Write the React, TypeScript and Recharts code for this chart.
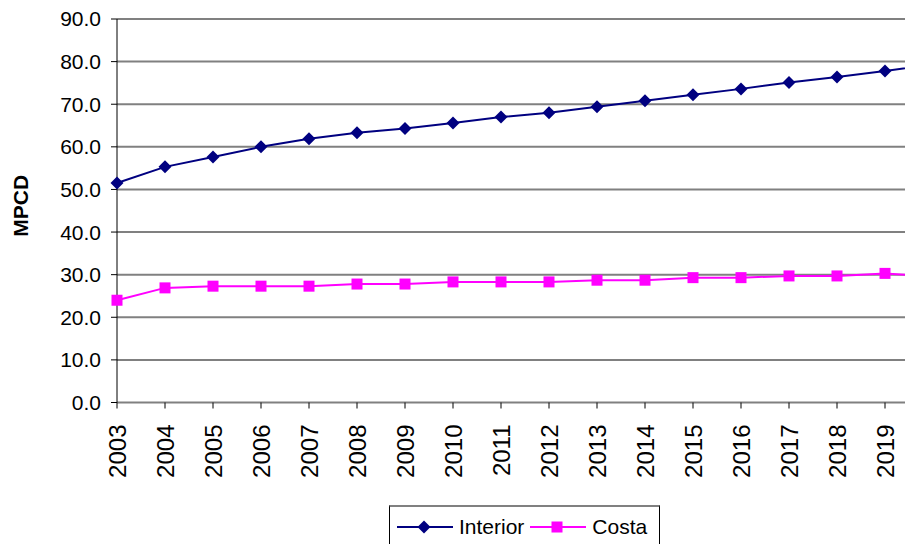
import { CartesianGrid, Legend, Line, LineChart, XAxis, YAxis } from "recharts";

const years = [
  "2003", "2004", "2005", "2006", "2007", "2008", "2009", "2010", "2011",
  "2012", "2013", "2014", "2015", "2016", "2017", "2018", "2019", "2020",
];
// the last year falls just outside the picture; only its line segment shows
const shownYears = years.slice(0, 17);
const interior = [
  51.5, 55.3, 57.6, 60.0, 61.9, 63.3, 64.3, 65.6, 67.0,
  68.0, 69.4, 70.8, 72.2, 73.6, 75.1, 76.4, 77.8, 79.4,
];
const costa = [
  24.0, 26.9, 27.3, 27.3, 27.3, 27.8, 27.8, 28.3, 28.3,
  28.3, 28.7, 28.7, 29.3, 29.3, 29.7, 29.7, 30.3, 29.6,
];
const yTicks = [0, 10, 20, 30, 40, 50, 60, 70, 80, 90];

const NAVY = "#000080";
const MAGENTA = "#FF00FF";
const FONT = "'Liberation Sans', Arial, sans-serif";

const data = years.map((year, i) => ({ year, interior: interior[i], costa: costa[i] }));

function Diamond({ cx, cy }: any) {
  if (cx == null || cy == null) return null;
  const r = 6.5;
  return (
    <polygon
      points={`${cx},${cy - r} ${cx + r},${cy} ${cx},${cy + r} ${cx - r},${cy}`}
      fill={NAVY}
    />
  );
}

function Square({ cx, cy }: any) {
  if (cx == null || cy == null) return null;
  return <rect x={cx - 5.5} y={cy - 5.5} width={11} height={11} fill={MAGENTA} />;
}

function YearTick({ x, y, payload }: any) {
  return (
    <g transform={`translate(${x},${y})`}>
      <text
        transform="rotate(-90)"
        x={-16}
        dy="0.36em"
        textAnchor="end"
        fontSize={24}
        fontFamily={FONT}
        fill="#000"
      >
        {payload.value}
      </text>
    </g>
  );
}

function LegendBox() {
  const item = (color: string, marker: "d" | "s", label: string) => (
    <div style={{ display: "flex", alignItems: "center" }}>
      <svg width={56} height={14} style={{ display: "block" }}>
        <line x1={0} y1={7} x2={56} y2={7} stroke={color} strokeWidth={2} />
        {marker === "d" ? (
          <polygon points="27,0.5 33.5,7 27,13.5 20.5,7" fill={color} />
        ) : (
          <rect x={21.5} y={1.5} width={11} height={11} fill={color} />
        )}
      </svg>
      <span style={{ marginLeft: 6, fontSize: 21, fontFamily: FONT, color: "#000" }}>{label}</span>
    </div>
  );
  return (
    <div
      style={{
        boxSizing: "border-box",
        width: 271,
        height: 50,
        borderTop: "2px solid #808080",
        borderLeft: "1px solid #000",
        borderRight: "1px solid #000",
        background: "#fff",
        display: "flex",
        alignItems: "flex-start",
        paddingTop: 8,
        paddingLeft: 7,
        gap: 6,
      }}
    >
      {item(NAVY, "d", "Interior")}
      {item(MAGENTA, "s", "Costa")}
    </div>
  );
}

export default function App() {
  return (
    <div
      style={{
        position: "fixed",
        left: 0,
        top: 0,
        width: 905,
        height: 544,
        overflow: "hidden",
        background: "#fff",
      }}
    >
      <LineChart
        width={933}
        height={544}
        data={data}
        margin={{ top: 19, right: 0, left: 0, bottom: 0 }}
      >
        <CartesianGrid
          horizontal
          vertical={false}
          stroke="#808080"
          strokeWidth={2}
        />
        <XAxis
          dataKey="year"
          height={141.5}
          ticks={shownYears}
          axisLine={false}
          tickLine={{ stroke: "#000", strokeWidth: 1 }}
          tickSize={6}
          tickMargin={0}
          interval={0}
          tick={<YearTick />}
        />
        <YAxis
          width={117}
          domain={[0, 90]}
          ticks={yTicks}
          interval={0}
          tickFormatter={(v: number) => v.toFixed(1)}
          axisLine={{ stroke: "#000", strokeWidth: 1 }}
          tickLine={{ stroke: "#000", strokeWidth: 1 }}
          tickSize={6}
          tickMargin={10}
          tick={{ fill: "#000", fontSize: 21, fontFamily: FONT }}
          label={{
            content: ({ viewBox }: any) => (
              <text
                x={viewBox.x + 20}
                y={viewBox.y + viewBox.height / 2 - 5}
                transform={`rotate(-90, ${viewBox.x + 20}, ${viewBox.y + viewBox.height / 2 - 5})`}
                textAnchor="middle"
                dominantBaseline="central"
                fontSize={21}
                fontWeight="bold"
                fontFamily={FONT}
                fill="#000"
              >
                MPCD
              </text>
            ),
          }}
        />
        <Legend
          layout="vertical"
          align="center"
          verticalAlign="middle"
          content={<LegendBox />}
          wrapperStyle={{ left: 389, top: 505, width: 271, height: 50 }}
        />
        <Line
          type="linear"
          dataKey="interior"
          name="Interior"
          stroke={NAVY}
          strokeWidth={2}
          dot={<Diamond />}
          activeDot={false}
          isAnimationActive={false}
        />
        <Line
          type="linear"
          dataKey="costa"
          name="Costa"
          stroke={MAGENTA}
          strokeWidth={2}
          dot={<Square />}
          activeDot={false}
          isAnimationActive={false}
        />
      </LineChart>
    </div>
  );
}
